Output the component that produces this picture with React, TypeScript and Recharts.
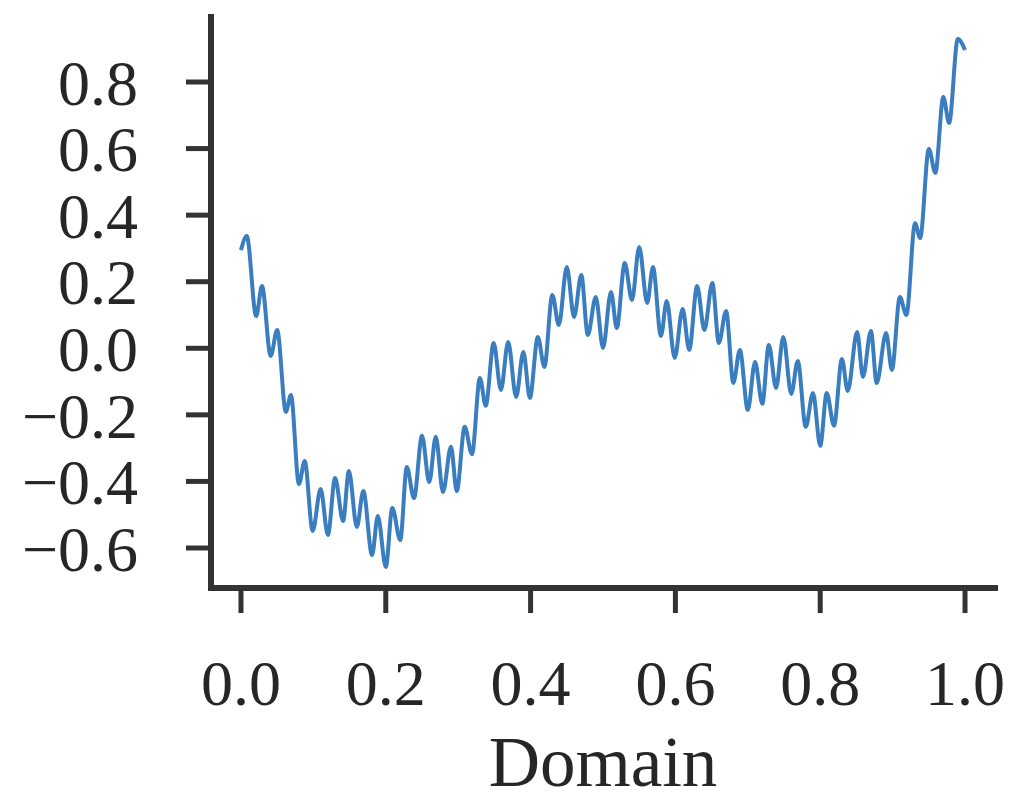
import { LineChart, Line, XAxis, YAxis } from 'recharts'

// alternating peaks / troughs of the wiggly curve
const domainX = [
  0.0, 0.008, 0.021, 0.029, 0.041, 0.05, 0.062, 0.069, 0.08, 0.088,
  0.099, 0.11, 0.12, 0.13, 0.141, 0.149, 0.16, 0.169, 0.181, 0.189,
  0.2, 0.209, 0.22, 0.229, 0.239, 0.25, 0.26, 0.269, 0.279, 0.29,
  0.298, 0.309, 0.319, 0.33, 0.338, 0.349, 0.359, 0.369, 0.38, 0.39,
  0.399, 0.41, 0.419, 0.43, 0.439, 0.45, 0.46, 0.47, 0.479, 0.49,
  0.5, 0.511, 0.519, 0.53, 0.54, 0.55, 0.561, 0.569, 0.58, 0.588,
  0.599, 0.61, 0.619, 0.63, 0.64, 0.651, 0.66, 0.67, 0.68, 0.689,
  0.7, 0.71, 0.72, 0.729, 0.739, 0.749, 0.76, 0.769, 0.78, 0.79,
  0.8, 0.809, 0.819, 0.83, 0.838, 0.851, 0.859, 0.87, 0.878, 0.891,
  0.899, 0.91, 0.919, 0.931, 0.938, 0.95, 0.959, 0.97, 0.978, 0.99,
  1.0,
]

const values = [
  0.295, 0.337, 0.097, 0.187, -0.023, 0.055, -0.191, -0.14, -0.408, -0.339,
  -0.549, -0.423, -0.561, -0.39, -0.519, -0.369, -0.537, -0.429, -0.621, -0.504,
  -0.657, -0.48, -0.576, -0.357, -0.45, -0.263, -0.402, -0.266, -0.432, -0.296,
  -0.429, -0.236, -0.318, -0.089, -0.173, 0.016, -0.125, 0.019, -0.146, -0.011,
  -0.149, 0.034, -0.056, 0.16, 0.07, 0.244, 0.094, 0.22, 0.04, 0.154,
  0.001, 0.169, 0.061, 0.256, 0.145, 0.304, 0.136, 0.244, 0.037, 0.142,
  -0.029, 0.118, -0.005, 0.187, 0.055, 0.196, 0.016, 0.112, -0.104, -0.005,
  -0.185, -0.041, -0.167, 0.01, -0.119, 0.034, -0.137, -0.038, -0.236, -0.134,
  -0.293, -0.134, -0.233, -0.032, -0.128, 0.049, -0.086, 0.052, -0.104, 0.046,
  -0.065, 0.154, 0.1, 0.376, 0.331, 0.599, 0.527, 0.755, 0.677, 0.929,
  0.896,
]

const xTicks = [0, 0.2, 0.4, 0.6, 0.8, 1.0]
const yTicks = [-0.6, -0.4, -0.2, 0.0, 0.2, 0.4, 0.6, 0.8]

const data = domainX.map((x, i) => ({ x, y: values[i] }))

const ink = '#262626'
const spine = '#333333'
const font = "'Liberation Serif', 'DejaVu Serif', serif"

const fmt = (v: number) => (v < 0 ? '\u2212' + Math.abs(v).toFixed(1) : v.toFixed(1))

export default function App() {
  return (
    <div style={{ position: 'absolute', left: 0, top: 0, background: '#fff' }}>
      <LineChart
        width={1009}
        height={804}
        data={data}
        margin={{ top: 17, right: 14, bottom: 0, left: 0 }}
      >
        <XAxis
          dataKey="x"
          type="number"
          domain={[-0.0414, 1.0414]}
          ticks={xTicks}
          interval={0}
          tickFormatter={fmt}
          height={216}
          tickSize={25}
          tickMargin={47}
          axisLine={{ stroke: spine, strokeWidth: 6, strokeLinecap: 'square' }}
          tickLine={{ stroke: spine, strokeWidth: 5 }}
          tick={{ fill: ink, fontSize: 64, fontFamily: font }}
          label={{
            value: 'Domain',
            position: 'insideBottom',
            offset: 18,
            fill: ink,
            fontSize: 71,
            fontFamily: font,
          }}
        />
        <YAxis
          type="number"
          domain={[-0.7202, 0.9953]}
          ticks={yTicks}
          interval={0}
          tickFormatter={fmt}
          width={211}
          tickSize={25}
          tickMargin={48}
          axisLine={{ stroke: spine, strokeWidth: 6, strokeLinecap: 'square' }}
          tickLine={{ stroke: spine, strokeWidth: 5 }}
          tick={{ fill: ink, fontSize: 64, fontFamily: font }}
        />
        <Line
          dataKey="y"
          type="monotone"
          stroke="#3a7ebf"
          strokeWidth={4}
          dot={false}
          isAnimationActive={false}
        />
      </LineChart>
    </div>
  )
}
